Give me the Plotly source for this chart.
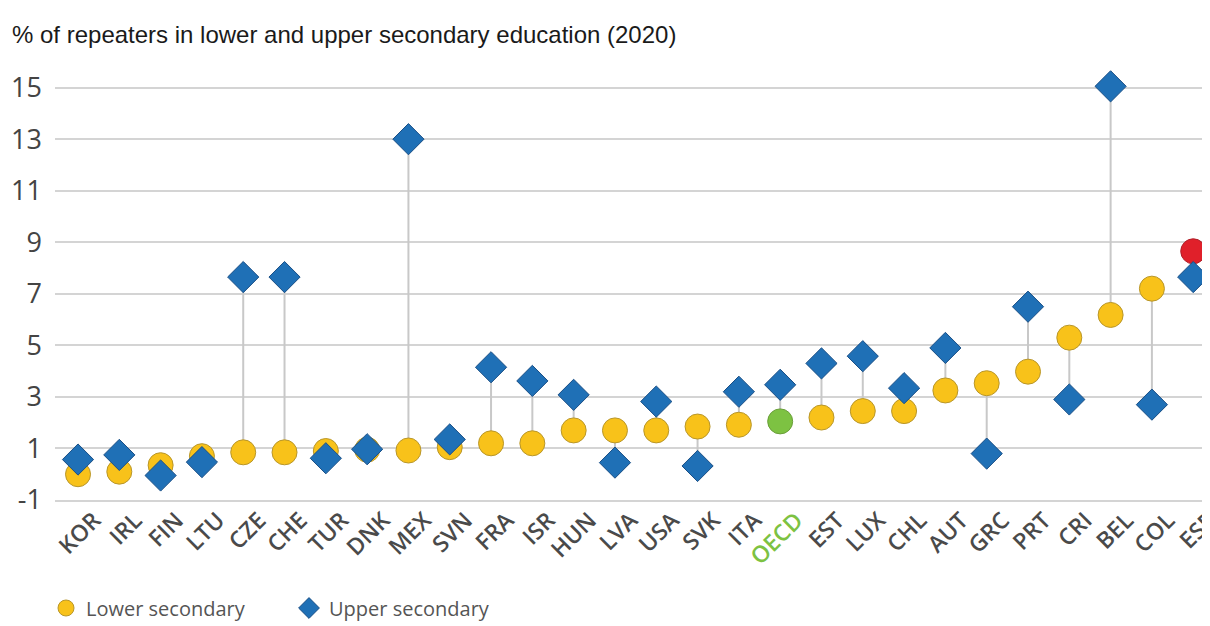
import plotly.graph_objects as go

countries = ["KOR", "IRL", "FIN", "LTU", "CZE", "CHE", "TUR", "DNK", "MEX", "SVN",
             "FRA", "ISR", "HUN", "LVA", "USA", "SVK", "ITA", "OECD", "EST", "LUX",
             "CHL", "AUT", "GRC", "PRT", "CRI", "BEL", "COL", "ESP"]
lower_secondary = [0.0, 0.1, 0.35, 0.7, 0.85, 0.85, 0.9, 0.95, 0.92, 1.05,
                   1.2, 1.2, 1.7, 1.7, 1.7, 1.85, 1.92, 2.05, 2.2, 2.45,
                   2.45, 3.25, 3.53, 3.98, 5.3, 6.18, 7.2, 8.65]
upper_secondary = [0.57, 0.75, -0.05, 0.47, 7.65, 7.65, 0.62, 0.97, 13.0, 1.35,
                   4.15, 3.62, 3.08, 0.45, 2.82, 0.32, 3.2, 3.47, 4.3, 4.58,
                   3.34, 4.9, 0.8, 6.5, 2.9, 15.05, 2.7, 7.65]
y_ticks = [-1, 1, 3, 5, 7, 9, 11, 13, 15]
y_tick_labels = ["-1", "1", "3", "5", "7", "9", "11", "13", "15"]

title_text = "% of repeaters in lower and upper secondary education (2020)"

YELLOW = "#F8C21A"
YELLOW_EDGE = "#B8962A"
BLUE = "#1F70B6"
BLUE_EDGE = "#1A4F86"
GREEN = "#7DC242"
RED = "#E0202A"

lower_colors = []
lower_edges = []
for c in countries:
    if c == "OECD":
        lower_colors.append(GREEN); lower_edges.append("#6A9E3A")
    elif c == "ESP":
        lower_colors.append(RED); lower_edges.append("#B0202A")
    else:
        lower_colors.append(YELLOW); lower_edges.append(YELLOW_EDGE)

xs = list(range(len(countries)))
line_x, line_y = [], []
for i, (lo, up) in enumerate(zip(lower_secondary, upper_secondary)):
    line_x += [i, i, None]
    line_y += [lo, up, None]

fig = go.Figure()
fig.add_trace(go.Scatter(x=line_x, y=line_y, mode="lines",
                         line=dict(color="#C8C8C8", width=2),
                         showlegend=False, hoverinfo="skip", cliponaxis=False))
fig.add_trace(go.Scatter(x=xs, y=lower_secondary, mode="markers", name="Lower secondary",
                         marker=dict(symbol="circle", size=25, color=lower_colors,
                                     line=dict(color=lower_edges, width=1)),
                         showlegend=False, cliponaxis=False))
fig.add_trace(go.Scatter(x=xs, y=upper_secondary, mode="markers", name="Upper secondary",
                         marker=dict(symbol="diamond", size=24, color=BLUE,
                                     line=dict(color=BLUE_EDGE, width=1)),
                         showlegend=False, cliponaxis=False))
# legend entries
fig.add_trace(go.Scatter(x=[None], y=[None], mode="markers", name="Lower secondary",
                         marker=dict(symbol="circle", size=25, color=YELLOW,
                                     line=dict(color=YELLOW_EDGE, width=1))))
fig.add_trace(go.Scatter(x=[None], y=[None], mode="markers", name="Upper secondary",
                         marker=dict(symbol="diamond", size=24, color=BLUE,
                                     line=dict(color=BLUE_EDGE, width=1))))

tick_text = [f'<span style="color:{GREEN}">{c}</span>' if c == "OECD" else c for c in countries]

fig.update_layout(
    width=1210, height=626,
    margin=dict(l=47, r=0, t=59, b=134, autoexpand=False),
    paper_bgcolor="white", plot_bgcolor="white",
    title=dict(text=title_text, xref="container", yref="container",
               x=4 / 1210, xanchor="left", y=1 - 27 / 626, yanchor="middle",
               font=dict(family="Liberation Sans, Arial", size=24, color="#1a1a1a")),
    xaxis=dict(range=[-0.557, 27.6], tickvals=xs, ticktext=tick_text, tickangle=-45,
               showgrid=False, zeroline=False, showline=True, linecolor="#D4D4D4",
               linewidth=1.5, ticks="", automargin=False,
               ticklabelshift=16, ticklabelstandoff=-4, ticklabeloverflow="allow",
               tickfont=dict(family="Open Sans", size=23, color="#4a4a4a", weight=600)),
    yaxis=dict(range=[-1, 15.8], tickvals=y_ticks, ticktext=y_tick_labels,
               showgrid=True, gridcolor="#D4D4D4", gridwidth=1.5, zeroline=False,
               showline=False, ticks="", ticklabelstandoff=12, automargin=False,
               tickfont=dict(family="Open Sans", size=27, color="#444444")),
    legend=dict(orientation="h", xref="container", yref="container",
                x=38 / 1210, xanchor="left", y=1 - 600 / 626, yanchor="middle",
                font=dict(family="Open Sans", size=20, color="#555555"),
                entrywidth=198, entrywidthmode="pixels"),
    showlegend=True,
)

fig.write_html("out.html")
